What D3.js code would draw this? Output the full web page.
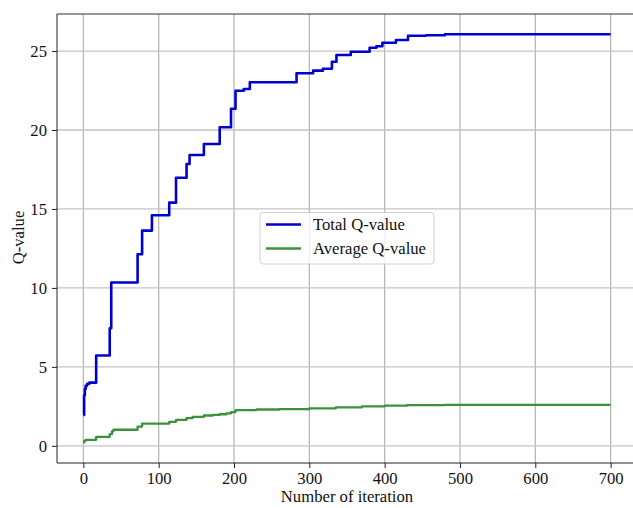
<!DOCTYPE html>
<html>
<head>
<meta charset="utf-8">
<script src="https://cdn.jsdelivr.net/npm/d3@7"></script>
<style>
  html, body { margin: 0; padding: 0; background: #fff; overflow: hidden; }
  svg { display: block; }
</style>
</head>
<body>
<svg id="chart" width="633" height="508"></svg>
<script>
// ---- data ----
const seriesNames = ["Total Q-value", "Average Q-value"];
const totalIter  = [0, 1, 2, 3, 5, 8, 17, 35, 37, 39, 72, 78, 91, 114, 123, 137, 141, 160, 181, 196, 202, 213, 221, 283, 305, 318, 330, 336, 355, 380, 389, 397, 415, 431, 455, 480, 700];
const totalValue = [1.96, 3.2, 3.6, 3.8, 3.93, 4.0, 5.72, 7.45, 10.34, 10.34, 12.13, 13.63, 14.6, 15.4, 16.98, 17.85, 18.42, 19.11, 20.17, 21.35, 22.49, 22.6, 23.02, 23.59, 23.76, 23.88, 24.32, 24.75, 24.96, 25.21, 25.3, 25.53, 25.7, 25.97, 26.0, 26.06, 26.06];
const avgIter  = [0, 1, 3, 17, 35, 38, 40, 72, 78, 114, 123, 137, 145, 160, 172, 181, 190, 196, 202, 230, 260, 300, 335, 370, 400, 430, 480, 700];
const avgValue = [0.21, 0.32, 0.38, 0.57, 0.74, 0.92, 1.02, 1.22, 1.41, 1.52, 1.64, 1.75, 1.83, 1.92, 1.96, 2.0, 2.06, 2.13, 2.26, 2.3, 2.32, 2.37, 2.44, 2.5, 2.54, 2.58, 2.6, 2.6];
const xTicks = [0, 100, 200, 300, 400, 500, 600, 700];
const yTicks = [0, 5, 10, 15, 20, 25];
const xLabel = "Number of iteration";
const yLabel = "Q-value";

const FONT = "'Liberation Serif', 'Times New Roman', Times, serif";
const FS = 16.67;

// ---- layout ----
const svg = d3.select("#chart").style("font-family", FONT);
const pL = 57, pR = 637, pT = 14, pB = 463;
const x = d3.scaleLinear().domain([-35, 735]).range([pL, pR]);
const y = d3.scaleLinear().domain([-1.087, 27.346]).range([pB, pT]);

// grid
const grid = svg.append("g");
grid.selectAll("line.vx").data(xTicks).join("line")
  .attr("x1", d => x(d)).attr("x2", d => x(d))
  .attr("y1", pT).attr("y2", pB)
  .attr("stroke", "#b8b8b8").attr("stroke-width", 1.3);
grid.selectAll("line.hy").data(yTicks).join("line")
  .attr("y1", d => y(d)).attr("y2", d => y(d))
  .attr("x1", pL).attr("x2", pR)
  .attr("stroke", "#c4c4c4").attr("stroke-width", 1.3);

// lines
const totalData = totalIter.map((d, i) => [d, totalValue[i]]);
const avgData = avgIter.map((d, i) => [d, avgValue[i]]);
const line = d3.line().x(d => x(d[0])).y(d => y(d[1])).curve(d3.curveStepAfter);

svg.append("path").datum(avgData).attr("d", line)
  .attr("fill", "none").attr("stroke", "#3c913e").attr("stroke-width", 2.3)
  .attr("stroke-linejoin", "round");
svg.append("path").datum(totalData).attr("d", line)
  .attr("fill", "none").attr("stroke", "#0000cd").attr("stroke-width", 2.6)
  .attr("stroke-linejoin", "round");

// axes
const xAxis = svg.append("g").attr("transform", `translate(0,${pB})`)
  .call(d3.axisBottom(x).tickValues(xTicks).tickSize(5).tickPadding(4.5).tickSizeOuter(0));
const yAxis = svg.append("g").attr("transform", `translate(${pL},0)`)
  .call(d3.axisLeft(y).tickValues(yTicks).tickSize(5).tickPadding(5).tickSizeOuter(0));
[xAxis, yAxis].forEach(g => {
  g.attr("font-family", null).attr("font-size", null);
  g.select(".domain").remove();
  g.selectAll(".tick line").attr("stroke", "#222").attr("stroke-width", 1);
  g.selectAll(".tick text").attr("font-family", FONT)
    .attr("font-size", FS).attr("fill", "#111");
});
// spines
svg.append("line").attr("x1", pL).attr("x2", pR).attr("y1", pB).attr("y2", pB).attr("stroke", "#222").attr("stroke-width", 1);
svg.append("line").attr("x1", pL).attr("x2", pR).attr("y1", pT).attr("y2", pT).attr("stroke", "#333").attr("stroke-width", 1);
svg.append("line").attr("x1", pL).attr("x2", pL).attr("y1", pT).attr("y2", pB).attr("stroke", "#222").attr("stroke-width", 1);

// labels
svg.append("text").attr("x", (pL + pR) / 2).attr("y", 502)
  .attr("text-anchor", "middle").attr("font-family", FONT).attr("font-size", FS).attr("fill", "#111").text(xLabel);
svg.append("text").attr("transform", `translate(23.5,237.5) rotate(-90)`)
  .attr("text-anchor", "middle").attr("font-family", FONT).attr("font-size", FS).attr("fill", "#111").text(yLabel);

// legend
const lg = svg.append("g");
lg.append("rect").attr("x", 260).attr("y", 212.5).attr("width", 174).attr("height", 51.5)
  .attr("rx", 3).attr("fill", "white").attr("fill-opacity", 0.8)
  .attr("stroke", "#d0d0d0").attr("stroke-width", 1);
const colors = ["#0000cd", "#3c913e"];
seriesNames.forEach((name, i) => {
  const yy = 224.5 + i * 24;
  lg.append("line").attr("x1", 266).attr("x2", 301).attr("y1", yy).attr("y2", yy)
    .attr("stroke", colors[i]).attr("stroke-width", 2.5);
  lg.append("text").attr("x", 313).attr("y", yy + 5.5).attr("font-family", FONT)
    .attr("font-size", FS).attr("fill", "#111").text(name);
});
</script>
</body>
</html>
